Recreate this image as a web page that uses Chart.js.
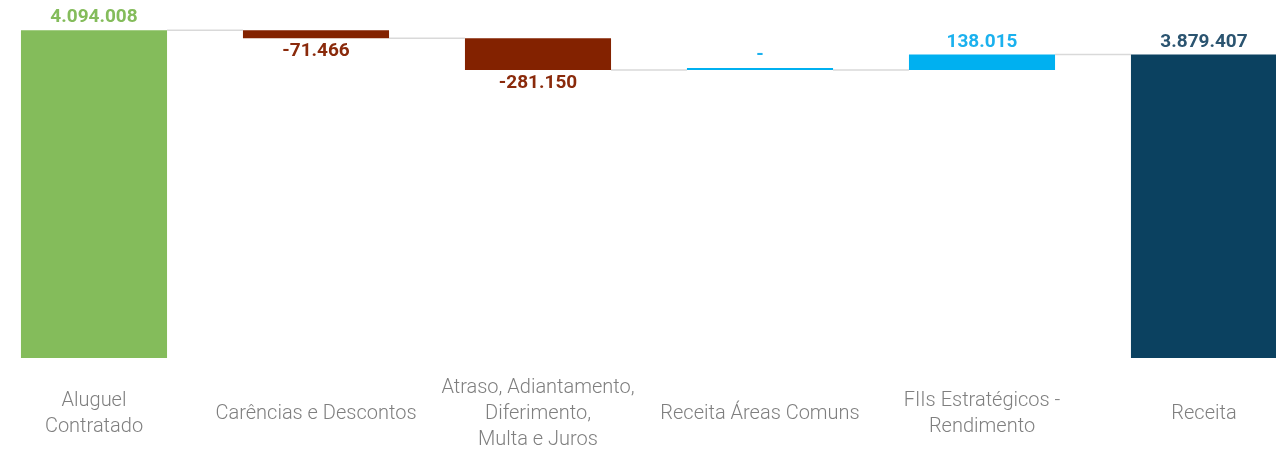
<!DOCTYPE html>
<html>
<head>
    <title>Receita</title>
    <script src="https://cdn.jsdelivr.net/npm/chart.js"></script>
    <style>
        body {
            margin: 0;
            background: #fff;
            overflow: hidden;
        }
        .chart-wrap {
            position: relative;
            width: 1276px;
            height: 451px;
            overflow: hidden;
        }
        .chart-box {
            position: absolute;
            left: -17px;
            top: 0;
            width: 1332px;
            height: 451px;
        }
    </style>
</head>
<body>
    <div class="chart-wrap">
        <div class="chart-box">
            <canvas id="waterfallChart"></canvas>
        </div>
    </div>

    <script>
        // categorias (quebras de linha como no relatório)
        const categories = [
            ['Aluguel', 'Contratado'],
            'Carências e Descontos',
            ['Atraso, Adiantamento,', 'Diferimento,', 'Multa e Juros'],
            'Receita Áreas Comuns',
            ['FIIs Estratégicos -', 'Rendimento'],
            'Receita'
        ];

        // valores em R$
        const values = [4094008, -71466, -281150, 0, 138015, 3879407];

        // barras de total partem do zero
        const isTotal = [true, false, false, false, false, true];

        const barColors = ['#84bc5b', '#832200', '#832200', '#00b0f0', '#00b0f0', '#0b4160'];
        const labelColors = ['#84bc5b', '#8a2a0b', '#8a2a0b', '#1bb1ee', '#1bb1ee', '#2b5470'];

        // monta os intervalos flutuantes da cascata
        let running = 0;
        const ranges = values.map((v, i) => {
            if (isTotal[i]) {
                running = v;
                return [0, v];
            }
            const start = running;
            running += v;
            return [start, running];
        });

        function formatBR(v) {
            if (v === 0) return '-';
            const s = Math.abs(v).toString().replace(/\B(?=(\d{3})+(?!\d))/g, '.');
            return (v < 0 ? '-' : '') + s;
        }

        // linhas de ligação entre as barras
        const connectorPlugin = {
            id: 'connectors',
            beforeDatasetsDraw(chart) {
                const ctx = chart.ctx;
                const meta = chart.getDatasetMeta(0);
                const yScale = chart.scales.y;
                ctx.save();
                ctx.strokeStyle = '#d9d9d9';
                ctx.lineWidth = 1.5;
                for (let i = 0; i < meta.data.length - 1; i++) {
                    const a = meta.data[i];
                    const b = meta.data[i + 1];
                    const y = yScale.getPixelForValue(ranges[i][1]);
                    ctx.beginPath();
                    ctx.moveTo(a.x + a.width / 2, y);
                    ctx.lineTo(b.x - b.width / 2, y);
                    ctx.stroke();
                }
                ctx.restore();
            }
        };

        // rótulos de valor acima/abaixo das barras
        const valueLabelPlugin = {
            id: 'valueLabels',
            afterDatasetsDraw(chart) {
                const ctx = chart.ctx;
                const meta = chart.getDatasetMeta(0);
                ctx.save();
                ctx.font = 'bold 19px Roboto';
                ctx.textAlign = 'center';
                ctx.textBaseline = 'middle';
                meta.data.forEach((bar, i) => {
                    const top = Math.min(bar.y, bar.base);
                    const bottom = Math.max(bar.y, bar.base);
                    const y = values[i] < 0 ? bottom + 13 : top - 12.5;
                    ctx.fillStyle = labelColors[i];
                    ctx.fillText(formatBR(values[i]), bar.x, y);
                });
                ctx.restore();
            }
        };

        const ctx = document.getElementById('waterfallChart').getContext('2d');
        new Chart(ctx, {
            type: 'bar',
            data: {
                labels: categories,
                datasets: [{
                    data: ranges,
                    backgroundColor: barColors,
                    borderWidth: 0,
                    borderSkipped: false,
                    categoryPercentage: 1,
                    barPercentage: 0.658,
                    minBarLength: 2
                }]
            },
            options: {
                responsive: true,
                maintainAspectRatio: false,
                animation: false,
                layout: { padding: 0 },
                plugins: {
                    legend: { display: false },
                    tooltip: { enabled: false },
                    title: { display: false }
                },
                scales: {
                    y: {
                        display: false,
                        min: 1200000,
                        max: 4360000
                    },
                    x: {
                        grid: { display: false, drawTicks: false },
                        border: { display: false },
                        afterFit(scale) {
                            scale.height = 93;
                        },
                        ticks: {
                            color: '#7f7f7f',
                            font: { family: 'Roboto', size: 20, weight: 300, lineHeight: '26px' },
                            padding: 30,
                            crossAlign: 'center',
                            maxRotation: 0,
                            autoSkip: false
                        }
                    }
                }
            },
            plugins: [connectorPlugin, valueLabelPlugin]
        });
    </script>
</body>
</html>
